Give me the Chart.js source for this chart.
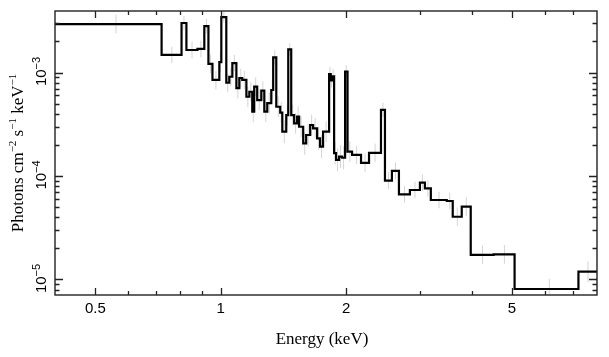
<!DOCTYPE html>
<html><head><meta charset="utf-8">
<script src="https://cdn.jsdelivr.net/npm/chart.js@4"></script>
<style>html,body{margin:0;padding:0;background:#fff}#wrap{width:609px;height:357px;position:relative}</style>
</head><body><div id="wrap"><canvas id="c" width="609" height="357"></canvas></div>
<script>
// ---- data ----
const binEdges = [0.40,0.721,0.805,0.827,0.879,0.913,0.934,0.955,0.992,1.003,
  1.031,1.048,1.066,1.090,1.108,1.126,1.152,1.171,1.190,1.203,
  1.223,1.251,1.272,1.293,1.322,1.336,1.359,1.389,1.405,1.436,
  1.452,1.476,1.500,1.525,1.542,1.577,1.603,1.639,1.666,1.703,
  1.731,1.760,1.820,1.836,1.850,1.871,1.891,1.923,1.955,1.988,2.015,
  2.066,2.171,2.269,2.424,2.478,2.575,2.677,2.844,3.006,3.090,
  3.193,3.487,3.604,3.788,3.981,4.519,5.073,7.220,8.0];
const flux = [2.94e-3,1.48e-3,3.01e-3,1.65e-3,1.69e-3,2.81e-3,1.21e-3,8.47e-4,1.26e-3,3.43e-3,
  7.96e-4,9.10e-4,1.23e-3,7.08e-4,8.85e-4,8.47e-4,5.83e-4,6.52e-4,4.18e-4,7.29e-4,
  5.42e-4,6.67e-4,4.18e-4,5.07e-4,6.78e-4,1.40e-3,4.67e-4,4.09e-4,2.68e-4,3.88e-4,
  1.67e-3,3.88e-4,3.23e-4,3.74e-4,2.99e-4,2.07e-4,2.49e-4,3.11e-4,2.89e-4,2.31e-4,
  1.92e-4,2.68e-4,9.67e-4,8.40e-4,9.20e-4,1.66e-4,1.43e-4,1.54e-4,1.50e-4,1.02e-3,1.72e-4,
  1.60e-4,1.34e-4,1.67e-4,4.35e-4,9.02e-5,1.12e-4,6.65e-5,7.32e-5,8.61e-5,7.60e-5,
  5.86e-5,5.73e-5,4.04e-5,5.05e-5,1.73e-5,1.75e-5,8.09e-6,1.19e-5];
// half-length of each grey error bar, in decades
const errDex = [0.09,0.08,0.07,0.08,0.08,0.07,0.09,0.09,0.10,0.05,
  0.09,0.09,0.08,0.10,0.09,0.09,0.10,0.09,0.10,0.09,
  0.10,0.09,0.10,0.10,0.09,0.07,0.10,0.10,0.11,0.10,
  0.06,0.10,0.10,0.10,0.10,0.11,0.11,0.10,0.10,0.11,
  0.11,0.10,0.07,0.07,0.07,0.11,0.11,0.11,0.11,0.06,0.10,
  0.09,0.09,0.09,0.07,0.08,0.08,0.08,0.08,0.08,0.08,
  0.08,0.08,0.09,0.09,0.09,0.09,0.10,0.10];
const xRange = [0.4, 8.0];
const yRange = [7.08e-6, 3.93e-3];
const xMajorTicks = [0.5, 1, 2, 5];
const xTickLabels = ['0.5', '1', '2', '5'];
const xMinorTicks = [0.6, 0.7, 0.8, 0.9, 3, 4, 6, 7];
const yMajorTicks = [1e-5, 1e-4, 1e-3];
const yTickExponents = ['\u22125', '\u22124', '\u22123'];
const yMinorTicks = [8e-6, 9e-6, 2e-5, 3e-5, 4e-5, 5e-5, 6e-5, 7e-5, 8e-5, 9e-5,
  2e-4, 3e-4, 4e-4, 5e-4, 6e-4, 7e-4, 8e-4, 9e-4, 2e-3, 3e-3];
const xTitle = 'Energy (keV)';
const yTitleParts = [['Photons cm', ''], ['\u22122', 'sup'], [' s', ''], ['\u22121', 'sup'], [' keV', ''], ['\u22121', 'sup']];

// ---- build datasets ----
const stepData = binEdges.map((e, i) => ({x: e, y: flux[Math.min(i, flux.length - 1)]}));
const errData = [];
for (let i = 0; i < flux.length; i++) {
  const c = (binEdges[i] + binEdges[i + 1]) / 2;
  errData.push({x: c, y: flux[i] * Math.pow(10, -errDex[i])});
  errData.push({x: c, y: flux[i] * Math.pow(10, errDex[i])});
  errData.push({x: c, y: null});
}

const SANS = '"Liberation Sans", Arial, sans-serif';
const SERIF = '"Liberation Serif", "Times New Roman", serif';

const decor = {
  id: 'decor',
  afterDatasetsDraw(chart) {
    const ctx = chart.ctx, a = chart.chartArea;
    const xs = chart.scales.x, ys = chart.scales.y;
    ctx.save();
    ctx.strokeStyle = '#222';
    ctx.lineWidth = 1.4;
    ctx.strokeRect(a.left, a.top, a.right - a.left, a.bottom - a.top);
    ctx.lineWidth = 1.3;
    ctx.beginPath();
    const xt = (v, len) => {
      const p = Math.round(xs.getPixelForValue(v)) + 0.5;
      ctx.moveTo(p, a.bottom); ctx.lineTo(p, a.bottom - len);
      ctx.moveTo(p, a.top); ctx.lineTo(p, a.top + len);
    };
    const yt = (v, len) => {
      const p = Math.round(ys.getPixelForValue(v)) + 0.5;
      ctx.moveTo(a.left, p); ctx.lineTo(a.left + len, p);
      ctx.moveTo(a.right, p); ctx.lineTo(a.right - len, p);
    };
    xMajorTicks.forEach(v => xt(v, 7));
    xMinorTicks.forEach(v => xt(v, 4));
    yMajorTicks.forEach(v => yt(v, 8));
    yMinorTicks.forEach(v => yt(v, 4.5));
    ctx.stroke();

    // x tick labels
    ctx.fillStyle = '#000';
    ctx.font = '15px ' + SANS;
    ctx.textAlign = 'center';
    ctx.textBaseline = 'alphabetic';
    xMajorTicks.forEach((v, i) => {
      ctx.fillText(xTickLabels[i], xs.getPixelForValue(v), a.bottom + 18);
    });

    // y tick labels (rotated, 10 with superscript)
    yMajorTicks.forEach((v, i) => {
      const py = ys.getPixelForValue(v);
      ctx.save();
      ctx.translate(46, py);
      ctx.rotate(-Math.PI / 2);
      ctx.textAlign = 'left';
      ctx.font = '15px ' + SANS;
      const w1 = ctx.measureText('10').width;
      ctx.font = '11px ' + SANS;
      const w2 = ctx.measureText(yTickExponents[i]).width;
      const start = -(w1 + w2) / 2 + 1;
      ctx.font = '15px ' + SANS;
      ctx.fillText('10', start, 0);
      ctx.font = '11px ' + SANS;
      ctx.fillText(yTickExponents[i], start + w1, -6);
      ctx.restore();
    });

    // x title
    ctx.font = '17px ' + SERIF;
    ctx.textAlign = 'center';
    ctx.fillText(xTitle, 322, 344);

    // y title
    ctx.save();
    ctx.translate(23, (a.top + a.bottom) / 2);
    ctx.rotate(-Math.PI / 2);
    ctx.textAlign = 'left';
    let total = 0;
    const widths = yTitleParts.map(([t, k]) => {
      ctx.font = (k === 'sup' ? '11px ' : '17px ') + SERIF;
      const w = ctx.measureText(t).width; total += w; return w;
    });
    let cx = -total / 2;
    yTitleParts.forEach(([t, k], i) => {
      ctx.font = (k === 'sup' ? '11px ' : '17px ') + SERIF;
      ctx.fillText(t, cx, k === 'sup' ? -7 : 0);
      cx += widths[i];
    });
    ctx.restore();
    ctx.restore();
  }
};

new Chart(document.getElementById('c'), {
  type: 'line',
  data: {
    datasets: [
      {data: stepData, stepped: 'before', borderColor: '#000', borderWidth: 2.2,
       pointRadius: 0, fill: false, borderJoinStyle: 'miter', order: 0},
      {data: errData, borderColor: '#d4d4d4', borderWidth: 1, pointRadius: 0,
       fill: false, spanGaps: false, order: 1}
    ]
  },
  options: {
    responsive: false, animation: false, events: [],
    devicePixelRatio: 1,
    layout: {padding: {left: 55, right: 12, top: 11, bottom: 62}},
    plugins: {legend: {display: false}, tooltip: {enabled: false}},
    scales: {
      x: {type: 'logarithmic', min: xRange[0], max: xRange[1], display: false},
      y: {type: 'logarithmic', min: yRange[0], max: yRange[1], display: false}
    }
  },
  plugins: [decor]
});
</script>
</body></html>
